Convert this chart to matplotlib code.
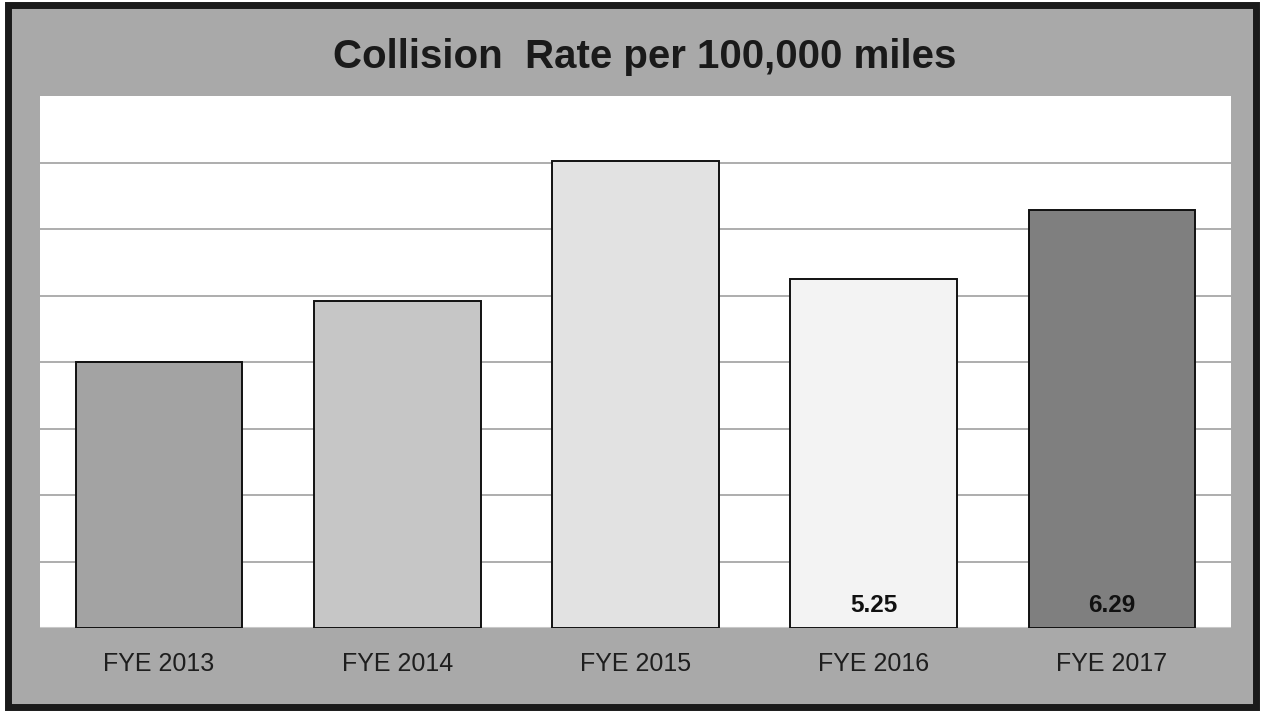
import matplotlib.pyplot as plt
from matplotlib.patches import Rectangle

categories = ["FYE 2013", "FYE 2014", "FYE 2015", "FYE 2016", "FYE 2017"]
rates = [4.0, 4.92, 7.02, 5.25, 6.29]
bar_colors = ["#a3a3a3", "#c6c6c6", "#e2e2e2", "#f3f3f3", "#7f7f7f"]
labeled = {3: "5.25", 4: "6.29"}

W, H = 1263, 713
fig = plt.figure(figsize=(W / 100, H / 100), dpi=100)
fig.patch.set_facecolor("white")

# Gray chart panel with a heavy dark border
panel = Rectangle((8 / W, 6 / H), (1256 - 8) / W, (708 - 6) / H,
                  transform=fig.transFigure, facecolor="#a9a9a9",
                  edgecolor="#1a1a1a", linewidth=5, zorder=0)
fig.patches.append(panel)

ax = fig.add_axes([40 / W, (H - 628) / H, (1231 - 40) / W, (628 - 96) / H])
ax.set_facecolor("white")
ax.set_zorder(1)

x = range(len(categories))
ax.bar(x, rates, width=0.70, color=bar_colors, edgecolor="#111111",
       linewidth=1.4, zorder=3)

for i, txt in labeled.items():
    ax.text(i, 0.17, txt, ha="center", va="bottom", fontsize=17.5,
            fontweight="bold", color="#111111", family="Liberation Sans", zorder=4)

ax.set_xlim(-0.5, len(categories) - 0.5)
ax.set_ylim(0, 8)
ax.set_yticks(range(1, 8))
ax.yaxis.grid(True, color="#a0a0a0", linewidth=1.2, zorder=1)
ax.tick_params(axis="y", left=False, labelleft=False)
ax.set_xticks(list(x))
ax.set_xticklabels(categories, fontsize=18, color="#1e1e1e", family="Liberation Sans")
ax.tick_params(axis="x", length=0, pad=17)
for s in ax.spines.values():
    s.set_visible(False)
ax.axhline(0, color="#c8c8c8", linewidth=1.5, zorder=2)

fig.text(645 / W, 1 - 57 / H, "Collision  Rate per 100,000 miles",
         ha="center", va="center", fontsize=29, fontweight="bold",
         color="#1a1a1a", family="Liberation Sans")

fig.savefig("out.png", dpi=100)
